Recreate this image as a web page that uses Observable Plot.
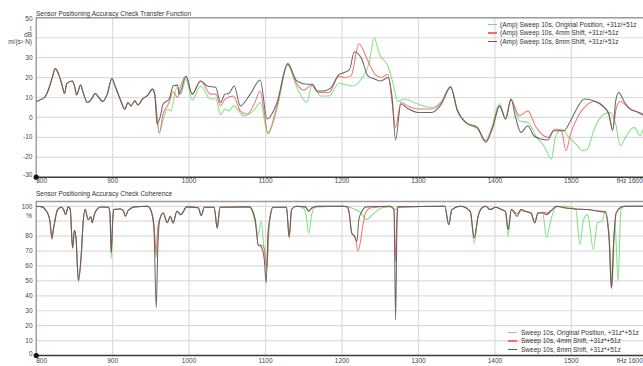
<!DOCTYPE html>
<html><head><meta charset="utf-8">
<script src="https://cdn.jsdelivr.net/npm/d3@7"></script>
<script src="https://cdn.jsdelivr.net/npm/@observablehq/plot@0.6"></script>
<style>
html,body{margin:0;padding:0;overflow:hidden;background:#fff;}
#wrap{position:relative;width:643px;height:366px;overflow:hidden;font-family:"Liberation Sans",Arial,sans-serif;}
#wrap svg{position:absolute;left:0;top:0;}
.t{position:absolute;font-size:6.5px;line-height:7px;color:#333;white-space:nowrap;}
.sw{position:absolute;height:1.4px;width:9px;}
</style></head><body><div id="wrap"></div>
<script>
// ---------- data ----------
const xTicks = [800, 900, 1000, 1100, 1200, 1300, 1400, 1500, 1600];
const xTickLabels = ["800", "900", "1000", "1100", "1200", "1300", "1400", "1500", "fHz 1600"];
const tfTicks = [50, 30, 20, 10, 0, -10, -20, -30];
const tfGrid = [-20, -10, 0, 10, 20, 30, 40];
const cohTicks = [100, 80, 70, 60, 50, 40, 30, 20, 10, 0];
const cohGrid = [10, 20, 30, 40, 50, 60, 70, 80, 90, 100];
const seriesNames = ["Original Position", "4mm Shift", "8mm Shift"];
const seriesColors = ["#78de78", "#f26a6a", "#5c5c5c"];

// Transfer function (dB), [Hz, dB]
const tfCommon = [[800,8],[805,8.8],[811,10],[817,15],[821,20],[825,24.5],[830,21],[834,16],[837,12],[840,17],[847,18.3],[850,16],[853,11.3],[858,16.3],[862,11.7],[867,7.5],[872,9],[877,12],[880,11],[887,8],[893,11.7],[899,19.5],[903,16],[909,10],[916,4.2],[920,7.5],[924,5.8],[929,8.3],[933,6.3],[939,9.2],[946,11.2],[952,14.2],[955,11.7]];
const tfOriginalTail = [[961,-7.8],[966,-1],[972,4.2],[976,3.3],[984,15],[989,11.7],[996,19.2],[1004,8.7],[1015,15.8],[1028,9.2],[1035,9.2],[1041,1.3],[1047,4.2],[1052,3.3],[1058,5.8],[1072,0.8],[1086,4.2],[1093,7.5],[1103,-8.3],[1115,4.2],[1129,26.3],[1141,15],[1154,7.5],[1161,16.7],[1172,10.8],[1183,10.8],[1196,17],[1203,16.7],[1214,15.8],[1225,19.2],[1236,28.3],[1242,40],[1249,31.7],[1260,25.8],[1267,16.7],[1273,8],[1282,9.2],[1299,6.7],[1317,5],[1330,8],[1342,15.8],[1351,4.2],[1364,-3.3],[1377,-5.8],[1388,-11.7],[1395,-5.8],[1406,7],[1414,-1],[1421,9.2],[1432,-1.7],[1443,-2.5],[1456,-10.8],[1464,-14.2],[1474,-20.8],[1479,-10],[1487,-5.8],[1497,-10],[1508,-14.2],[1514,-16.7],[1521,-15.8],[1530,-5.8],[1543,1.7],[1551,2.5],[1558,-3.3],[1564,-14.2],[1571,-10],[1582,-5],[1590,-9.2],[1596,-3.3]];
const tf4mmTail = [[961,-7.8],[966,1.7],[974,7.5],[979,13],[985,10],[989,15.8],[996,20.8],[1004,11.7],[1015,18.3],[1028,11.7],[1035,11.7],[1041,5.8],[1047,9.2],[1058,10.8],[1067,3.3],[1076,1.7],[1086,7.5],[1093,13.3],[1098,3.3],[1103,-7.8],[1115,5.8],[1129,26.7],[1141,16.7],[1150,13.7],[1161,16.3],[1169,12.5],[1183,12.5],[1196,20.8],[1203,20],[1212,21],[1222,37],[1234,28.3],[1243,21.7],[1251,20],[1260,21.7],[1265,9.2],[1270,-5],[1277,7.5],[1286,5.8],[1299,4.2],[1317,4.2],[1330,7.5],[1342,15],[1351,3.3],[1364,-3.3],[1377,-5],[1388,-11.7],[1397,-5.5],[1406,5.8],[1414,-0.5],[1421,8.7],[1432,0.8],[1443,3.3],[1454,-5],[1469,-10],[1479,-5.8],[1487,-6.7],[1493,-16.7],[1499,-8.3],[1508,0],[1517,5],[1530,8],[1543,5],[1549,1.7],[1554,-5.8],[1559,5],[1564,8],[1577,4.2],[1588,2.5],[1595,1.7]];
const tf8mmTail = [[958,-3.3],[962,0],[966,6.7],[974,9.2],[979,15.8],[985,16.2],[987,11.7],[996,20.5],[1004,11.7],[1015,18.3],[1024,15.8],[1035,15],[1041,7.5],[1047,11.7],[1052,12],[1059,15.8],[1067,5.8],[1080,11.7],[1093,18.8],[1102,-0.8],[1115,7.5],[1129,27],[1141,18.3],[1154,16.7],[1161,16.7],[1167,13.3],[1176,13.3],[1185,14.7],[1196,21.5],[1203,22.5],[1210,24.2],[1216,32.8],[1225,30],[1234,20.8],[1243,19.2],[1251,18.3],[1260,20],[1266,8.3],[1270,-11.3],[1277,6.7],[1286,4.5],[1299,2.5],[1317,2.5],[1330,6.7],[1342,15.3],[1351,3.3],[1362,-2.5],[1377,-5],[1388,-12.5],[1397,-5],[1406,5.8],[1414,-0.8],[1421,9.2],[1427,0],[1434,-7.5],[1443,-4.2],[1451,-9.2],[1460,-10.8],[1469,-11.3],[1477,-6.7],[1490,-6.7],[1499,-1.7],[1508,5],[1517,9.2],[1530,8.3],[1543,5],[1549,1.7],[1554,-6.7],[1558,8.3],[1562,12.5],[1569,8],[1577,4.2],[1588,2.5],[1595,0.8]];

// Coherence (%), [Hz, %]
const coh8mm = [[800,100],[808,99.6],[813,97],[815.3,95],[818,90],[820.5,78],[823,86],[828,97.8],[833,99.3],[836,97.5],[838.4,94.4],[842,99.6],[844.5,98],[847.6,72],[850,84],[852.2,77.7],[855.2,50],[858.8,66.5],[861.4,89],[864,98],[868,91],[871.6,93],[873.1,89],[876.7,95.5],[884.4,99.5],[894.6,99.3],[896.5,95],[898.2,69],[900,90],[901.3,97.8],[910,98.2],[914,97],[916.6,93.3],[920,97],[922.8,98.2],[927.9,99.6],[945.8,100],[950.9,96],[954,85],[957,32],[959,70],[961.5,91],[966.2,95.5],[971.4,89],[975.4,93.3],[979,88.8],[984.1,96.7],[989.3,94.4],[996.9,99.6],[1012,99],[1015.9,93.7],[1019.9,99.3],[1032.7,99.3],[1036.8,85.5],[1040.4,99.3],[1078.8,99.6],[1086.4,91],[1090.5,74],[1094,73],[1098.2,65],[1100.8,48.6],[1103,80],[1105.4,91],[1109.5,99.3],[1127.4,99.3],[1130.9,79.2],[1134,97.8],[1140.2,100],[1152,99.6],[1156.5,96.6],[1160.6,98.9],[1168.3,100],[1201.5,100],[1206.6,99.6],[1209.2,95.5],[1212.8,82],[1216,80],[1219.5,76.6],[1222,91],[1226,96.6],[1232,99.6],[1262.9,100],[1268,97.8],[1270.1,24],[1272,90],[1273.1,99.6],[1334.5,100],[1339.6,87.7],[1343.7,97.8],[1355,100],[1367.8,96.6],[1372.9,78.8],[1378,93.3],[1383.1,98.9],[1388.2,100],[1393.4,97.8],[1401,99.3],[1408.7,97.8],[1413.8,96.6],[1417.4,84.4],[1421.5,97.8],[1429.2,93.3],[1434.3,97.8],[1439.4,96.6],[1447.1,95.5],[1452.2,88.8],[1456.3,95.5],[1462.4,95.5],[1467.5,94.4],[1475.2,97.8],[1480.3,100],[1493.1,98.9],[1505.9,98.2],[1521,97.8],[1535,96.6],[1544.2,96],[1549.4,77.7],[1552.4,45],[1555.5,77.7],[1558.6,95.5],[1564.8,99.3],[1569.9,100],[1600,100]];
const coh4mm = [[800,100],[808,99.6],[813,97],[815.3,95],[818,90],[820.5,80],[823,86],[828,97.8],[833,99.3],[836,97.5],[838.4,94.4],[842,99.6],[844.5,98],[847.6,72],[850,84],[852.2,77.7],[855.2,50],[858.8,66.5],[861.4,89],[864,98],[868,91],[871.6,93],[873.1,89],[876.7,95.5],[884.4,99.5],[894.6,99.3],[896.5,95],[898.2,69],[900,90],[901.3,97.8],[910,98.2],[914,97],[916.6,93.3],[920,97],[922.8,98.2],[927.9,99.6],[945.8,100],[950.9,96],[954,88],[957,68.7],[959,85],[961.5,91],[966.2,95.5],[971.4,89],[975.4,93.3],[979,88.8],[984.1,96.7],[989.3,94.4],[996.9,99.6],[1012,99],[1015.9,93.7],[1019.9,99.3],[1032.7,99.3],[1036.8,85.5],[1040.4,99.3],[1078.8,99.6],[1086.4,91],[1090.5,74],[1094,74],[1098.2,72],[1101.8,58.7],[1104,85],[1107,95],[1109.5,99.3],[1127.4,99.3],[1130.9,79.2],[1134,97.8],[1140.2,100],[1152,99.6],[1156.5,96.6],[1160.6,98.9],[1168.3,100],[1201.5,100],[1206.6,99.6],[1209.2,97],[1212.8,82],[1216.9,80],[1221,70],[1224.6,77.7],[1227.1,86.6],[1230.7,95.5],[1237,98.9],[1262.9,100],[1268,98],[1270.1,63],[1272,95],[1273.1,99.6],[1334.5,100],[1339.6,87.7],[1343.7,97.8],[1355,100],[1367.8,96.6],[1372.9,78.8],[1378,93.3],[1383.1,98.9],[1388.2,100],[1393.4,97.8],[1401,99.3],[1408.7,97.8],[1413.8,96.6],[1417.4,84.4],[1421.5,97.8],[1429.2,95],[1434.3,97.8],[1439.4,96.6],[1447.1,95.5],[1452.2,88.8],[1456.3,95.5],[1462.4,96],[1467.5,95.5],[1475.2,97.8],[1480.3,100],[1493.1,98.9],[1505.9,98.2],[1521,97.8],[1535,97],[1544.2,96.6],[1549.4,77.7],[1552.4,45],[1555.5,77.7],[1558.6,95.5],[1564.8,99.3],[1569.9,100],[1600,100]];
const cohOriginal = [[800,100],[808,99.6],[813,97],[815.3,95],[818,90],[820.5,80],[823,86],[828,97.8],[833,99.3],[836,97.5],[838.4,94.4],[842,99.6],[844.5,98],[847.6,72],[850,84],[852.2,77.7],[855.2,50],[858.8,66.5],[861.4,89],[864,98],[868,91],[871.6,93],[873.1,89],[876.7,95.5],[884.4,99.5],[894.6,99.3],[896.5,94],[898.2,65],[900,90],[901.3,97.8],[910,98.2],[914,97],[916.6,93.3],[920,97],[922.8,98.2],[927.9,99.6],[945.8,100],[950.9,96],[954,86],[957,65.4],[959,84],[961.5,91],[966.2,95.5],[971.4,89],[975.4,93.3],[979,88.8],[984.1,96.7],[989.3,94.4],[996.9,99.6],[1012,99],[1015.9,93.7],[1019.9,99.3],[1032.7,99.3],[1036.8,85.5],[1040.4,99.3],[1078.8,99.6],[1083,96],[1086.4,88.8],[1090.5,81],[1094.1,90],[1098.2,71],[1101.8,58.7],[1105.4,91],[1109.5,99.3],[1127.4,99.3],[1130.9,79.2],[1134,97.8],[1140.2,100],[1150,98.5],[1153,94],[1156.5,82],[1160.6,95],[1165,99.3],[1201.5,100],[1209,99.3],[1216,98.2],[1224,96],[1232.2,91.1],[1237,93],[1242.5,95.5],[1252.7,99.1],[1262.9,99.6],[1268,98.2],[1270.1,97.8],[1273.1,99.6],[1334.5,100],[1339.6,87.7],[1343.7,97.8],[1355,100],[1367.8,96.6],[1372.9,75],[1378,93.3],[1383.1,98.9],[1388.2,100],[1393.4,97.8],[1401,99.3],[1408.7,97.8],[1413.8,96.6],[1417.4,80],[1421.5,97.8],[1429.2,95],[1434.3,97],[1439.4,96.6],[1447.1,95.5],[1452.2,90],[1456.3,95.5],[1462.4,96],[1467.5,79],[1472,88],[1475.2,94.4],[1480.3,99.5],[1493.1,100],[1505.9,97.8],[1511,74.3],[1516.1,91.1],[1521.2,94.4],[1528.9,71],[1534,88.8],[1540.2,90],[1544.2,96.6],[1549.4,82.1],[1553.5,46.4],[1557,88.8],[1561.2,49.8],[1564.8,97.8],[1569.9,100],[1600,100]];

const tfSeries = [tfCommon.concat(tfOriginalTail), tfCommon.concat(tf4mmTail), tfCommon.concat(tf8mmTail)];
const cohSeries = [cohOriginal, coh4mm, coh8mm];
const tfLegend = seriesNames.map(n => `(Amp) Sweep 10s, ${n}, +31z/+51z`);
const cohLegend = seriesNames.map(n => `Sweep 10s, ${n}, +31z*+51z`);

// ---------- drawing ----------
const W = 643, H = 366;
const xScale = {domain: [800, 1600], range: [35.7, 647.3]};
const FONT = 6.5, LBL = "#444";

function lineMarks(seriesList) {
  return seriesList.map((s, i) => Plot.line(s, {x: d => d[0], y: d => d[1], stroke: seriesColors[i], strokeWidth: 1.05, strokeOpacity: 0.92, curve: "monotone-x"}));
}
function xLabelMarks(dy) {
  const mid = xTicks.slice(1, -1);
  return [
    Plot.text([xTicks[0]], {x: d => d, frameAnchor: "bottom", dy, text: () => xTickLabels[0], textAnchor: "start", fontSize: FONT, fill: LBL}),
    Plot.text(mid, {x: d => d, frameAnchor: "bottom", dy, text: (d, i) => xTickLabels[i + 1], fontSize: FONT, fill: LBL}),
    Plot.text([xTicks[xTicks.length - 1]], {x: d => d, frameAnchor: "bottom", dy, dx: -5, text: () => xTickLabels[xTickLabels.length - 1], textAnchor: "end", fontSize: FONT, fill: LBL})
  ];
}
function yLabelMarks(ticks, skip) {
  const shown = ticks.filter(t => !skip.includes(t));
  const top = shown[0], bot = shown[shown.length - 1];
  const mid = shown.slice(1, -1);
  const base = {y: d => d, frameAnchor: "left", dx: -4, textAnchor: "end", fontSize: FONT, fill: LBL, text: d => String(d)};
  return [
    Plot.text([top], {...base, lineAnchor: "top", dy: -1.5}),
    Plot.text(mid, base),
    Plot.text([bot], {...base, lineAnchor: "bottom", dy: 0})
  ];
}
function frameMarks(yTop, yBot) {
  return [
    Plot.ruleY([yTop], {stroke: "#9a9a9a", strokeWidth: 1.6}),
    Plot.ruleX([800], {stroke: "#8a8a8a", strokeWidth: 1.2}),
    Plot.ruleY([yBot], {stroke: "#3a3a3a", strokeWidth: 1.6}),
    Plot.dot([[800, yBot]], {x: d => d[0], y: d => d[1], r: 2.6, fill: "#111", stroke: "none"})
  ];
}

const tfPlot = Plot.plot({
  width: W, height: H,
  marginLeft: 36, marginRight: 0, marginTop: 17.3, marginBottom: H - 176.7,
  x: {...xScale, axis: null},
  y: {domain: [-30, 50], range: [176.7, 17.3], axis: null},
  style: {background: "transparent", overflow: "visible", fontFamily: "Liberation Sans, Arial, sans-serif"},
  marks: [
    Plot.ruleY(tfGrid, {stroke: "#dcdcdc", strokeWidth: 1.2}),
    Plot.ruleX(xTicks.slice(1), {stroke: "#dcdcdc", strokeWidth: 1.2}),
    ...lineMarks(tfSeries),
    ...frameMarks(50, -30),
    ...yLabelMarks(tfTicks, [40]),
    ...xLabelMarks(5.5)
  ]
});

const cohPlot = Plot.plot({
  width: W, height: H,
  marginLeft: 36, marginRight: 0, marginTop: 201, marginBottom: H - 355,
  x: {...xScale, axis: null},
  y: {domain: [0, 103.2], range: [355, 201], axis: null},
  style: {background: "transparent", overflow: "visible", fontFamily: "Liberation Sans, Arial, sans-serif"},
  marks: [
    Plot.ruleY(cohGrid, {stroke: "#dcdcdc", strokeWidth: 1.2}),
    Plot.ruleX(xTicks.slice(1), {stroke: "#dcdcdc", strokeWidth: 1.2}),
    ...lineMarks(cohSeries),
    ...frameMarks(103.2, 0),
    ...yLabelMarks(cohTicks, []),
    ...xLabelMarks(7)
  ]
});

const wrap = document.getElementById("wrap");
wrap.appendChild(tfPlot);
wrap.appendChild(cohPlot);

function addText(txt, left, cy, opts = {}) {
  const d = document.createElement("div");
  d.className = "t";
  d.textContent = txt;
  d.style.top = (cy - 3.6) + "px";
  if (opts.right !== undefined) d.style.right = (W - opts.right) + "px"; else d.style.left = left + "px";
  if (opts.color) d.style.color = opts.color;
  wrap.appendChild(d);
}
function addSwatch(left, cy, color) {
  const s = document.createElement("div");
  s.className = "sw";
  s.style.left = left + "px";
  s.style.top = (cy - 0.7) + "px";
  s.style.background = color;
  wrap.appendChild(s);
}

addText("Sensor Positioning Accuracy Check Transfer Function", 36, 13.5);
addText("Sensor Positioning Accuracy Check Coherence", 36, 193.5);
// unit labels
addText("l", 0, 29, {right: 31.5, color: LBL});
addText("dB", 0, 35, {right: 32, color: LBL});
addText("m/(s²·N)", 0, 41.5, {right: 32, color: LBL});
addText("%", 0, 216, {right: 32, color: LBL});
// legends
[24.5, 33, 41.5].forEach((cy, i) => { addSwatch(488, cy, seriesColors[i]); addText(tfLegend[i], 500, cy); });
[332.7, 341, 349.5].forEach((cy, i) => { addSwatch(508, cy, seriesColors[i]); addText(cohLegend[i], 521, cy); });
</script></body></html>
